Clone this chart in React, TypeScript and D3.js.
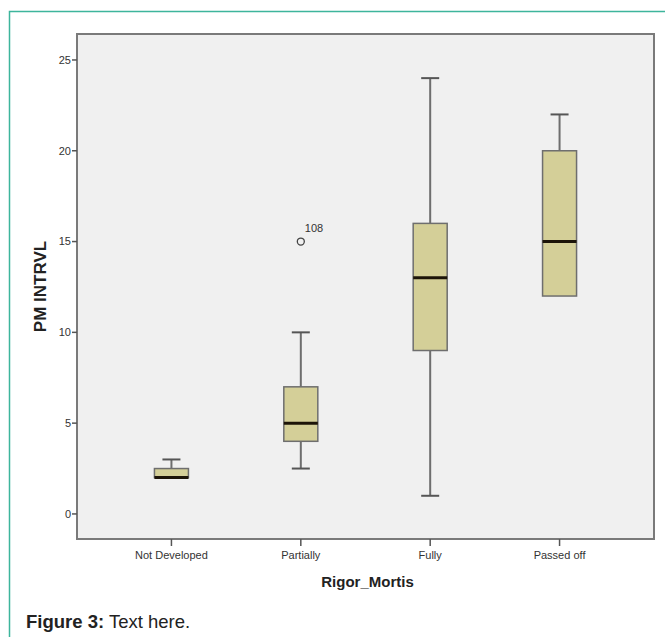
import React, { useRef, useEffect } from "react";
import { select, scaleLinear, scalePoint } from "d3";

// Rigor mortis groups and box-plot summaries (PM interval, hours)
const categories = ["Not Developed", "Partially", "Fully", "Passed off"];
const whiskerLow = [2, 2.5, 1, 12];
const q1 = [2, 4, 9, 12];
const median = [2, 5, 13, 15];
const q3 = [2.5, 7, 16, 20];
const whiskerHigh = [3, 10, 24, 22];
const outliers = [{ category: "Partially", value: 15, label: "108" }];
const yTicks = [0, 5, 10, 15, 20, 25];

const W = 665;
const H = 637;

const App = () => {
  const svgRef = useRef<SVGSVGElement>(null);

  useEffect(() => {
    document.body.style.margin = "0";
    const svg = select(svgRef.current);
    svg.selectAll("*").remove();

    const margin = { top: 34, right: 11, bottom: 98, left: 77 };
    const left = margin.left;
    const right = W - margin.right;
    const top = margin.top;
    const bottom = H - margin.bottom;

    // outer teal frame (runs off the right and bottom of the picture)
    svg
      .append("rect")
      .attr("x", 9.5)
      .attr("y", 11.5)
      .attr("width", 800)
      .attr("height", 800)
      .attr("fill", "white")
      .attr("stroke", "#3db59c")
      .attr("stroke-width", 1.5);

    const y = scaleLinear().domain([-1.38, 26.43]).range([bottom, top]);
    const x = scalePoint<string>().domain(categories).range([left, right]).padding(0.73);

    // plot background
    svg
      .append("rect")
      .attr("x", left)
      .attr("y", top)
      .attr("width", right - left)
      .attr("height", bottom - top)
      .attr("fill", "#f0f0f0")
      .attr("stroke", "#7a7a7a")
      .attr("stroke-width", 2);

    const fontFamily = "'Liberation Sans', Arial, sans-serif";

    // y ticks
    const yAxis = svg.append("g");
    yTicks.forEach((t) => {
      yAxis
        .append("line")
        .attr("x1", left - 5)
        .attr("x2", left)
        .attr("y1", y(t))
        .attr("y2", y(t))
        .attr("stroke", "#555")
        .attr("stroke-width", 1.5);
      yAxis
        .append("text")
        .attr("x", left - 6)
        .attr("y", y(t))
        .attr("dy", "0.35em")
        .attr("text-anchor", "end")
        .style("font-family", fontFamily)
        .style("font-size", "11px")
        .style("fill", "#333")
        .text(t);
    });

    // x ticks
    const xAxis = svg.append("g");
    categories.forEach((c) => {
      xAxis
        .append("line")
        .attr("x1", x(c))
        .attr("x2", x(c))
        .attr("y1", bottom)
        .attr("y2", bottom + 7)
        .attr("stroke", "#555")
        .attr("stroke-width", 1.5);
      xAxis
        .append("text")
        .attr("x", x(c))
        .attr("y", bottom + 20)
        .attr("text-anchor", "middle")
        .style("font-family", fontFamily)
        .style("font-size", "11px")
        .style("fill", "#333")
        .text(c);
    });

    // axis titles
    svg
      .append("text")
      .attr("x", (left + right) / 2 + 2)
      .attr("y", bottom + 48)
      .attr("text-anchor", "middle")
      .style("font-family", fontFamily)
      .style("font-size", "15px")
      .style("font-weight", "bold")
      .style("fill", "#222")
      .text("Rigor_Mortis");

    svg
      .append("text")
      .attr("transform", `translate(46, ${(top + bottom) / 2}) rotate(-90)`)
      .attr("text-anchor", "middle")
      .style("font-family", fontFamily)
      .style("font-size", "17px")
      .style("font-weight", "bold")
      .style("fill", "#222")
      .text("PM INTRVL");

    // boxes
    const boxW = 34;
    const capW = 18;
    const boxes = svg.append("g");
    categories.forEach((c, i) => {
      const cx = x(c) as number;
      const g = boxes.append("g");
      // whiskers
      [
        [whiskerHigh[i], q3[i]],
        [whiskerLow[i], q1[i]],
      ].forEach(([w, q]) => {
        if (w === q) return;
        g.append("line")
          .attr("x1", cx)
          .attr("x2", cx)
          .attr("y1", y(w))
          .attr("y2", y(q))
          .attr("stroke", "#6e6e6e")
          .attr("stroke-width", 2);
        g.append("line")
          .attr("x1", cx - capW / 2)
          .attr("x2", cx + capW / 2)
          .attr("y1", y(w))
          .attr("y2", y(w))
          .attr("stroke", "#555")
          .attr("stroke-width", 2);
      });
      g.append("rect")
        .attr("x", cx - boxW / 2)
        .attr("y", y(q3[i]))
        .attr("width", boxW)
        .attr("height", y(q1[i]) - y(q3[i]))
        .attr("fill", "#d4cf98")
        .attr("stroke", "#6e6e6e")
        .attr("stroke-width", 1.5);
      g.append("line")
        .attr("x1", cx - boxW / 2)
        .attr("x2", cx + boxW / 2)
        .attr("y1", y(median[i]))
        .attr("y2", y(median[i]))
        .attr("stroke", "#1c1408")
        .attr("stroke-width", 3);
    });

    // outliers
    outliers.forEach((o) => {
      const cx = x(o.category) as number;
      svg
        .append("circle")
        .attr("cx", cx)
        .attr("cy", y(o.value))
        .attr("r", 3.5)
        .attr("fill", "none")
        .attr("stroke", "#444")
        .attr("stroke-width", 1.3);
      svg
        .append("text")
        .attr("x", cx + 4)
        .attr("y", y(o.value) - 10)
        .style("font-family", fontFamily)
        .style("font-size", "11px")
        .style("fill", "#333")
        .text(o.label);
    });

    // caption
    const caption = svg
      .append("text")
      .attr("x", 26)
      .attr("y", 628)
      .style("font-family", fontFamily)
      .style("font-size", "18.5px")
      .style("fill", "#222");
    caption.append("tspan").style("font-weight", "bold").text("Figure 3:");
    caption.append("tspan").text(" Text here.");
  }, []);

  return <svg ref={svgRef} width={W} height={H} style={{ display: "block" }} />;
};

export default App;
